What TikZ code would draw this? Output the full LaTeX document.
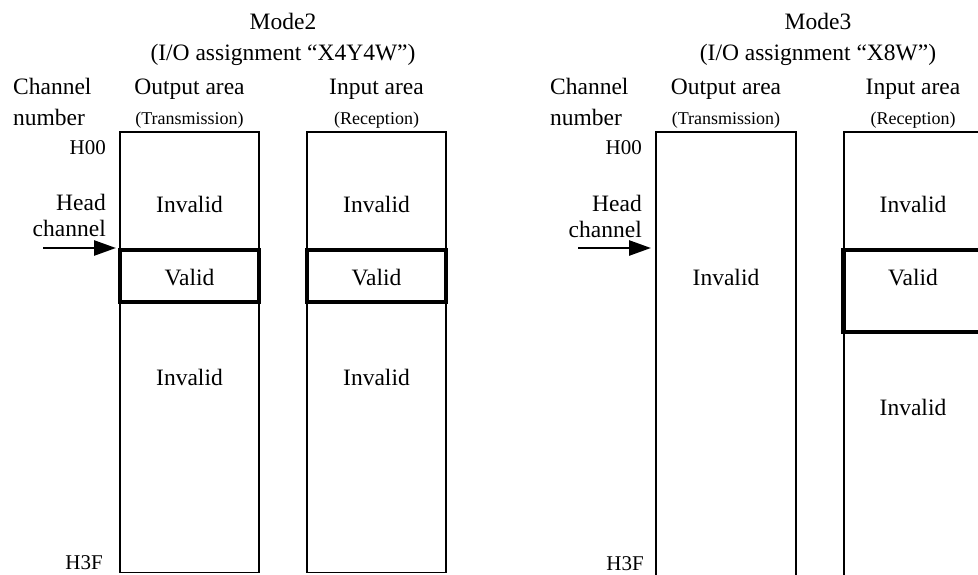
\documentclass[tikz,border=0pt]{standalone}
\usepackage{fontspec}
\setmainfont{Liberation Serif}
\usetikzlibrary{arrows.meta}
\begin{document}
\begin{tikzpicture}[x=1pt,y=-1pt,
  txt/.style={inner sep=0pt,anchor=base,font=\fontsize{23.5}{26}\selectfont},
  small/.style={inner sep=0pt,anchor=base,font=\fontsize{18}{20}\selectfont},
  hlab/.style={inner sep=0pt,anchor=base east,font=\fontsize{21}{24}\selectfont},
  rlab/.style={inner sep=0pt,anchor=base east,font=\fontsize{23.5}{26}\selectfont},
  llab/.style={inner sep=0pt,anchor=base west,font=\fontsize{23.5}{26}\selectfont},
  area/.style={draw=black,line width=1.5pt},
  validbox/.style={draw=black,line width=4.5pt},
  headarrow/.style={line width=2.6pt,-{Triangle[length=22pt,width=15pt]}}]
\useasboundingbox (0,0) rectangle (978,574);
\clip (0,0) rectangle (978,574);
\fill[white] (0,0) rectangle (978,574);

% ---------- Mode2 ----------
\node[txt] (m2t) at (283,29.5) {Mode2};
\node[txt] (m2a) at (283,60) {(I/O assignment “X4Y4W”)};
\node[llab] (m2c1) at (13,94) {Channel};
\node[llab] (m2c2) at (13,125) {number};
\node[txt] (m2o) at (189.5,94) {Output area};
\node[small] (m2ot) at (189.5,124) {(Transmission)};
\node[txt] (m2i) at (376.5,94) {Input area};
\node[small] (m2ir) at (376.5,124) {(Reception)};
\node[hlab] (m2h0) at (106,154) {H00};
\node[rlab] (m2hd) at (106,210) {Head};
\node[rlab] (m2ch) at (106,236) {channel};
\node[hlab] (m2h3) at (103,569.5) {H3F};

\draw[area] (120,132) rectangle (259,572.5);
\draw[area] (307,132) rectangle (446,572.5);
\draw[validbox] (120,250) rectangle (259,302);
\draw[validbox] (307,250) rectangle (446,302);

\node[txt] (m2oi1) at (189.5,212.7) {Invalid};
\node[txt] (m2ov) at (189.5,285) {Valid};
\node[txt] (m2oi2) at (189.5,385) {Invalid};
\node[txt] (m2ii1) at (376.5,212.7) {Invalid};
\node[txt] (m2iv) at (376.5,285) {Valid};
\node[txt] (m2ii2) at (376.5,385) {Invalid};

\coordinate (m2as) at (43,248);
\coordinate (m2ae) at (116,248);
\draw[headarrow] (m2as) -- (m2ae);

% ---------- Mode3 ----------
\node[txt] (m3t) at (818,29.5) {Mode3};
\node[txt] (m3a) at (818,60) {(I/O assignment “X8W”)};
\node[llab] (m3c1) at (550,94) {Channel};
\node[llab] (m3c2) at (550,125) {number};
\node[txt] (m3o) at (726,94) {Output area};
\node[small] (m3ot) at (726,124) {(Transmission)};
\node[txt] (m3i) at (913,94) {Input area};
\node[small] (m3ir) at (913,124) {(Reception)};
\node[hlab] (m3h0) at (642,154) {H00};
\node[rlab] (m3hd) at (642,211) {Head};
\node[rlab] (m3ch) at (642,237) {channel};
\node[hlab] (m3h3) at (644,570) {H3F};

\draw[area] (656,132) rectangle (796,600);
\draw[area] (844,132) rectangle (1010,600);
\draw[validbox] (843.5,250) rectangle (1010,332);

\node[txt] (m3oi) at (726,285) {Invalid};
\node[txt] (m3ii1) at (913,212.7) {Invalid};
\node[txt] (m3iv) at (913,285) {Valid};
\node[txt] (m3ii2) at (913,415.3) {Invalid};

\coordinate (m3as) at (578,248);
\coordinate (m3ae) at (651,248);
\draw[headarrow] (m3as) -- (m3ae);
\end{tikzpicture}
\end{document}
